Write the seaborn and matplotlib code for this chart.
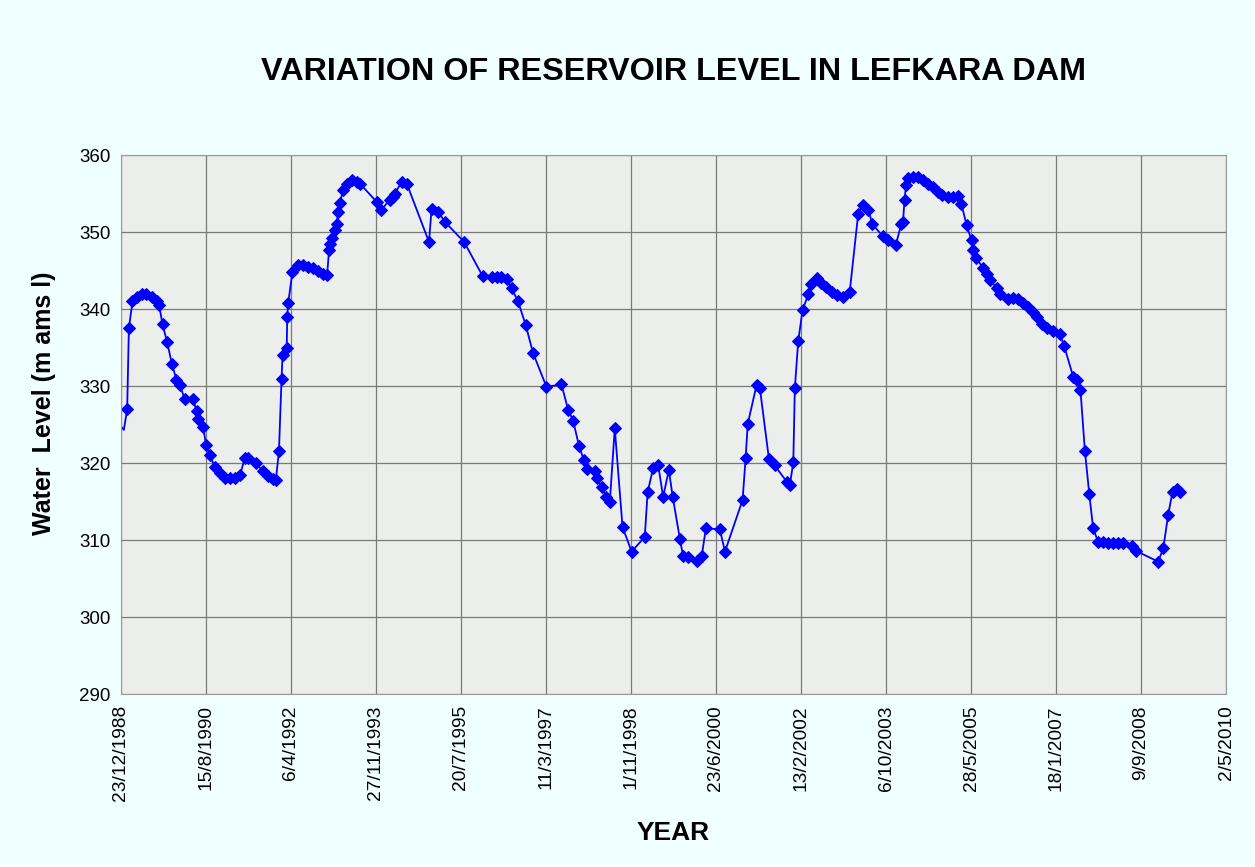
import pandas as pd
import seaborn as sns
import matplotlib.pyplot as plt

# fecha en años decimales y nivel del embalse (m amsl)
years = [1988.956, 1989.033, 1989.097, 1989.13, 1989.20, 1989.28, 1989.375, 1989.47,
         1989.57, 1989.665, 1989.715, 1989.78, 1989.87, 1989.96, 1990.05, 1990.115,
         1990.21, 1990.37, 1990.44, 1990.47, 1990.565, 1990.62, 1990.695, 1990.79,
         1990.89, 1990.985, 1991.08, 1991.18, 1991.275, 1991.37, 1991.435, 1991.58,
         1991.725, 1991.82, 1991.92, 1991.97, 1992.03, 1992.08, 1992.10, 1992.18,
         1992.19, 1992.21, 1992.29, 1992.40, 1992.50, 1992.595, 1992.69, 1992.79,
         1992.885, 1992.96, 1993.00, 1993.015, 1993.065, 1993.11, 1993.145, 1993.175,
         1993.21, 1993.27, 1993.34, 1993.435, 1993.53, 1993.595, 1993.92, 1994.01,
         1994.175, 1994.24, 1994.27, 1994.40, 1994.50, 1994.93, 1994.98, 1995.11,
         1995.24, 1995.61, 1995.965, 1996.14, 1996.235, 1996.33, 1996.43, 1996.525,
         1996.65, 1996.80, 1996.94, 1997.20, 1997.49, 1997.62, 1997.715, 1997.83,
         1997.92, 1997.99, 1998.135, 1998.17, 1998.265, 1998.36, 1998.425, 1998.52,
         1998.67, 1998.845, 1999.10, 1999.155, 1999.26, 1999.36, 1999.455, 1999.565,
         1999.64, 1999.78, 1999.84, 1999.94, 2000.10, 2000.20, 2000.28, 2000.55,
         2000.65, 2000.99, 2001.05, 2001.09, 2001.26, 2001.325, 2001.50, 2001.61,
         2001.84, 2001.905, 2001.97, 2002.00, 2002.065, 2002.15, 2002.26, 2002.32,
         2002.42, 2002.515, 2002.61, 2002.71, 2002.81, 2002.93, 2003.06, 2003.225,
         2003.32, 2003.42, 2003.50, 2003.695, 2003.80, 2003.95, 2004.06, 2004.09,
         2004.12, 2004.15, 2004.19, 2004.29, 2004.38, 2004.48, 2004.58, 2004.67,
         2004.77, 2004.835, 2004.96, 2005.06, 2005.155, 2005.22, 2005.32, 2005.415,
         2005.445, 2005.51, 2005.64, 2005.72, 2005.78, 2005.90, 2005.96, 2006.12,
         2006.22, 2006.315, 2006.41, 2006.51, 2006.605, 2006.68, 2006.77, 2006.865,
         2006.99, 2007.12, 2007.205, 2007.38, 2007.455, 2007.52, 2007.605, 2007.69,
         2007.765, 2007.86, 2007.96, 2008.055, 2008.15, 2008.25, 2008.345, 2008.51,
         2008.59, 2009.02, 2009.12, 2009.215, 2009.30, 2009.38, 2009.44]

level = [324.9, 324.3, 327.0, 337.5, 341.0, 341.6, 342.0, 341.9,
         341.6, 341.1, 340.5, 338.0, 335.7, 332.9, 330.8, 330.1,
         328.3, 328.3, 326.7, 325.7, 324.7, 322.4, 321.0, 319.5,
         318.7, 318.1, 318.0, 318.0, 318.4, 320.6, 320.7, 320.0,
         318.9, 318.3, 317.9, 317.8, 321.5, 330.9, 334.0, 334.9,
         339.0, 340.8, 344.8, 345.7, 345.7, 345.5, 345.3, 345.0,
         344.6, 344.4, 347.7, 348.5, 349.2, 350.3, 351.1, 352.6,
         353.8, 355.5, 356.3, 356.7, 356.5, 356.3, 353.9, 352.9,
         354.2, 354.6, 355.0, 356.5, 356.3, 348.7, 353.0, 352.6,
         351.3, 348.7, 344.3, 344.1, 344.1, 344.1, 343.9, 342.7,
         341.0, 337.9, 334.3, 329.9, 330.2, 326.9, 325.5, 322.2,
         320.4, 319.2, 318.9, 318.0, 316.9, 315.6, 315.0, 324.5,
         311.7, 308.5, 310.4, 316.2, 319.3, 319.7, 315.6, 319.1,
         315.6, 310.1, 307.9, 307.8, 307.3, 307.9, 311.5, 311.4,
         308.5, 315.2, 320.7, 325.1, 330.1, 329.7, 320.5, 319.7,
         317.6, 317.2, 320.1, 329.7, 335.8, 339.9, 341.9, 343.3,
         344.0, 343.4, 342.9, 342.2, 341.8, 341.6, 342.2, 352.4,
         353.5, 352.9, 351.0, 349.5, 349.0, 348.3, 351.1, 351.3,
         354.2, 356.1, 357.0, 357.2, 357.1, 356.8, 356.3, 355.8,
         355.2, 354.8, 354.5, 354.6, 354.7, 353.6, 350.9, 348.9,
         347.7, 346.6, 345.3, 344.5, 343.8, 342.7, 342.0, 341.3,
         341.4, 341.3, 340.8, 340.2, 339.6, 339.0, 338.1, 337.6,
         337.1, 336.7, 335.2, 331.2, 330.8, 329.5, 321.6, 316.0,
         311.5, 309.8, 309.7, 309.6, 309.6, 309.6, 309.6, 309.2,
         308.6, 307.2, 308.9, 313.3, 316.3, 316.6, 316.3]

tick_labels = ["23/12/1988", "15/8/1990", "6/4/1992", "27/11/1993", "20/7/1995",
               "11/3/1997", "1/11/1998", "23/6/2000", "13/2/2002", "6/10/2003",
               "28/5/2005", "18/1/2007", "9/9/2008", "2/5/2010"]
y_ticks = [290, 300, 310, 320, 330, 340, 350, 360]

df = pd.DataFrame({"year": years, "level": level})
df["fecha"] = pd.Timestamp("1988-01-01") + pd.to_timedelta((df["year"] - 1988) * 365.25, unit="D")
ticks = pd.to_datetime(tick_labels, dayfirst=True)

sns.set_style("whitegrid", {"axes.facecolor": "#EBEEEB", "grid.color": "#7A7A7A",
                            "axes.edgecolor": "#9A9A9A", "figure.facecolor": "#F0FFFF"})
plt.rcParams["font.family"] = ["Liberation Sans", "DejaVu Sans"]
plt.rcParams["text.color"] = "black"
plt.rcParams["axes.labelcolor"] = "black"
plt.rcParams["xtick.color"] = "#666666"
plt.rcParams["ytick.color"] = "#666666"
plt.rcParams["xtick.labelcolor"] = "black"
plt.rcParams["ytick.labelcolor"] = "black"

fig = plt.figure(figsize=(12.55, 8.67), dpi=100, facecolor="#F0FFFF")
ax = fig.add_axes([0.0964, 0.1995, 0.8805, 0.6217])

sns.lineplot(data=df, x="fecha", y="level", ax=ax, color="#0000FF", linewidth=1.3,
             marker="D", markersize=6, markeredgecolor="#0000FF",
             markevery=slice(2, None), sort=False)

ax.set_xlim(ticks[0], ticks[-1])
ax.set_ylim(290, 360)
ax.set_xticks(ticks)
ax.set_xticklabels(tick_labels, rotation=90, fontsize=13.8)
ax.set_yticks(y_ticks)
ax.tick_params(axis="y", labelsize=13.5, length=4)
ax.tick_params(axis="x", length=5, pad=3)
ax.grid(True, color="#7A7A7A", linewidth=0.9)

ax.set_xlabel("YEAR", fontsize=19, fontweight="bold", labelpad=14)
ax.set_ylabel("Water  Level (m ams l)", fontsize=18, fontweight="bold")
ax.yaxis.set_label_coords(-0.059, 0.54)
ax.set_title("VARIATION OF RESERVOIR LEVEL IN LEFKARA DAM", fontsize=23.3,
             fontweight="bold", pad=54)

fig.savefig("out.png", dpi=100, facecolor=fig.get_facecolor())
